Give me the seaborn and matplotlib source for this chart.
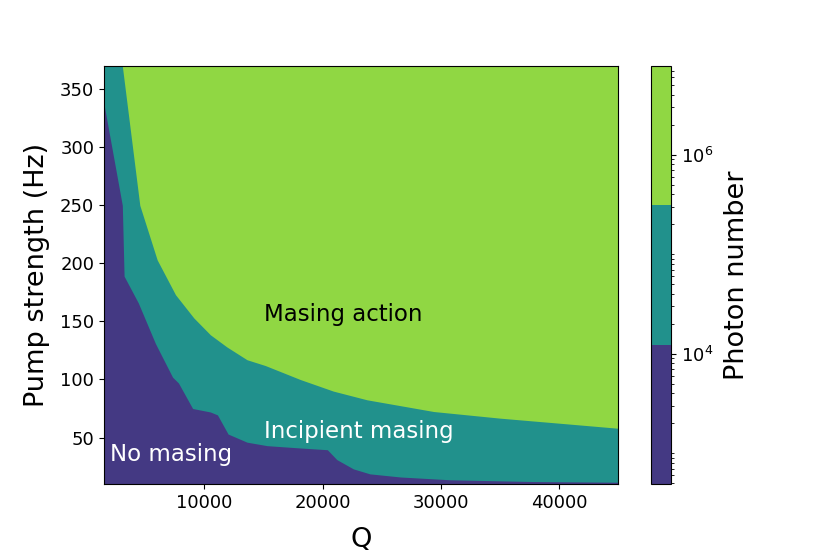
import numpy as np
import matplotlib
matplotlib.use("Agg")
import matplotlib.pyplot as plt
import seaborn as sns
from matplotlib.colors import LogNorm, ListedColormap
from matplotlib.cm import ScalarMappable
from matplotlib.ticker import (FixedLocator, LogLocator, LogFormatterSciNotation,
                               MultipleLocator, NullFormatter)

# boundary between "no masing" and "incipient masing" (Q, pump in Hz)
q_low = [1500, 3050, 3200, 4400, 5850, 7300, 7800, 9000, 10500, 11100, 12000,
         13600, 15300, 18100, 20400, 21200, 22600, 24000, 26600, 30800, 37800, 45000]
pump_low = [337, 250, 189, 166, 131, 102, 97, 75, 72, 69.5, 53,
            46, 43, 41, 39.5, 31, 23, 18.7, 16, 13.6, 12.1, 11.5]

# boundary between "incipient masing" and "masing action"
q_high = [3050, 4530, 6000, 7550, 9100, 10500, 11900, 13600, 15150, 18100,
          20900, 23750, 29400, 35000, 40650, 45000]
pump_high = [370, 250, 203, 173, 153, 138.5, 128, 117, 112, 100,
             90, 82.5, 72.4, 66.7, 61.8, 58]

# photon number contour levels
photon_levels = [4.9e2, 1.23e4, 3.1e5, 7.8e6]

q_range = [1500, 45000]
pump_range = [10, 370]

cmap = sns.color_palette("viridis", as_cmap=True)
colores = [cmap(1 / 6), cmap(0.5), cmap(5 / 6)]

fig = plt.figure(figsize=(8.3, 5.54), dpi=100)
ax = fig.add_axes([0.1253, 0.1264, 0.6193, 0.7545])
cax = fig.add_axes([0.7843, 0.1264, 0.0241, 0.7545])

# incipient masing fills everything, the other two regions go on top
ax.fill_between(q_range, pump_range[0], pump_range[1], color=colores[1], lw=0)
ax.fill_between(q_low, pump_range[0], pump_low, color=colores[0], lw=0)
ax.fill_between(q_high, pump_high, pump_range[1], color=colores[2], lw=0)

ax.set_xlim(q_range)
ax.set_ylim(pump_range)
ax.xaxis.set_major_locator(MultipleLocator(10000))
ax.tick_params(labelsize=13)
ax.set_xlabel("Q", fontsize=19.5, labelpad=11)
ax.set_ylabel("Pump strength (Hz)", fontsize=19.5, labelpad=7)

ax.text(15000, 150, "Masing action", fontsize=16.5, color="black")
ax.text(15000, 50, "Incipient masing", fontsize=16.5, color="white")
ax.text(2000, 30, "No masing", fontsize=16.5, color="white")

sm = ScalarMappable(norm=LogNorm(photon_levels[0], photon_levels[-1]),
                    cmap=ListedColormap(colores))
cbar = fig.colorbar(sm, cax=cax)
cbar.ax.yaxis.set_major_locator(FixedLocator([1e4, 1e6]))
cbar.ax.yaxis.set_major_formatter(LogFormatterSciNotation())
cbar.ax.yaxis.set_minor_locator(LogLocator(base=10, subs=np.arange(1, 10), numticks=30))
cbar.ax.yaxis.set_minor_formatter(NullFormatter())
cbar.ax.tick_params(labelsize=13)
cbar.set_label("Photon number", fontsize=19.5, labelpad=8)

fig.savefig("out.png", dpi=100)
